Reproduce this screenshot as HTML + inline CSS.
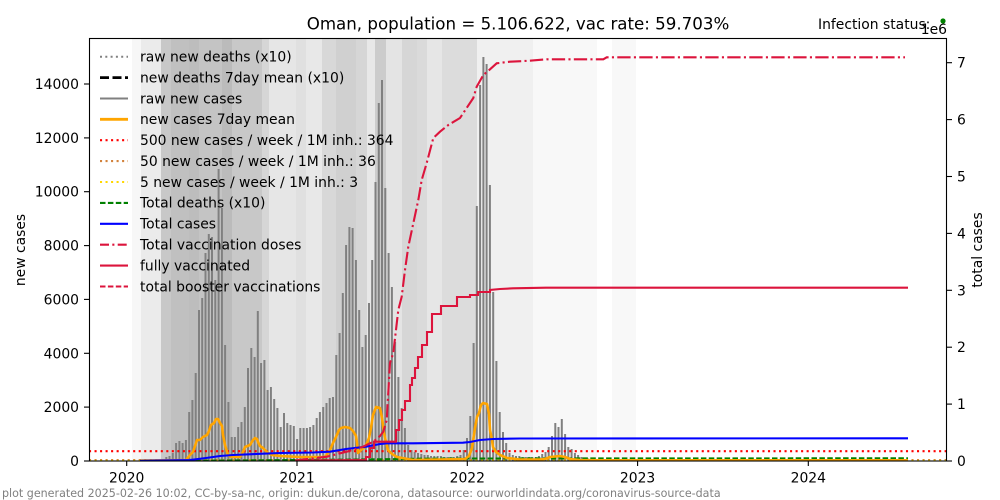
<!DOCTYPE html>
<html><head><meta charset="utf-8"><style>
html,body{margin:0;padding:0;background:#fff;}
svg{display:block;font-family:"DejaVu Sans","Liberation Sans",sans-serif;}
</style></head><body>
<svg width="1000" height="500" viewBox="0 0 1000 500" xmlns="http://www.w3.org/2000/svg">
<defs><clipPath id="ax"><rect x="89" y="38" width="858" height="423"/></clipPath></defs>
<rect width="1000" height="500" fill="#fff"/>
<g clip-path="url(#ax)">
<g shape-rendering="crispEdges">
<rect x="132" y="38" width="9" height="423" fill="#f7f7f7"/>
<rect x="141" y="38" width="20" height="423" fill="#ebebeb"/>
<rect x="161" y="38" width="10" height="423" fill="#c8c8c8"/>
<rect x="171" y="38" width="18" height="423" fill="#c0c0c0"/>
<rect x="189" y="38" width="10" height="423" fill="#bdbdbd"/>
<rect x="199" y="38" width="23" height="423" fill="#c4c4c4"/>
<rect x="222" y="38" width="10" height="423" fill="#bbbbbb"/>
<rect x="232" y="38" width="30" height="423" fill="#c8c8c8"/>
<rect x="262" y="38" width="7" height="423" fill="#d6d6d6"/>
<rect x="269" y="38" width="27" height="423" fill="#e6e6e6"/>
<rect x="296" y="38" width="10" height="423" fill="#e0e0e0"/>
<rect x="306" y="38" width="16" height="423" fill="#e8e8e8"/>
<rect x="322" y="38" width="14" height="423" fill="#d8d8d8"/>
<rect x="336" y="38" width="20" height="423" fill="#d0d0d0"/>
<rect x="356" y="38" width="11" height="423" fill="#d6d6d6"/>
<rect x="367" y="38" width="8" height="423" fill="#e8e8e8"/>
<rect x="375" y="38" width="11" height="423" fill="#cccccc"/>
<rect x="386" y="38" width="16" height="423" fill="#e4e4e4"/>
<rect x="402" y="38" width="15" height="423" fill="#d6d6d6"/>
<rect x="417" y="38" width="10" height="423" fill="#dadada"/>
<rect x="427" y="38" width="15" height="423" fill="#e6e6e6"/>
<rect x="442" y="38" width="35" height="423" fill="#dcdcdc"/>
<rect x="477" y="38" width="56" height="423" fill="#f0f0f0"/>
<rect x="533" y="38" width="64" height="423" fill="#f8f8f8"/>
<rect x="612" y="38" width="24" height="423" fill="#f8f8f8"/>
</g>
<!-- raw new cases bars -->
<path stroke="#808080" stroke-width="2" fill="none" d="M163 461V459M166.3 461V457M169.5 461V456M172.8 461V453M176.1 461V443M179.4 461V441M182.6 461V443M185.9 461V440M189.2 461V412M192.4 461V400M195.7 461V373M199 461V310M202.2 461V298M205.5 461V253M208.8 461V234M212 461V237M215.3 461V280M218.6 461V169M221.9 461V208M225.1 461V345M228.4 461V402M231.7 461V437M234.9 461V437M238.2 461V427M241.5 461V422M244.8 461V407M248 461V368M251.3 461V348M254.6 461V357M257.8 461V311M261.1 461V363M264.4 461V360M267.6 461V390M270.9 461V387M274.2 461V399M277.4 461V408M280.7 461V427M284 461V413M287.3 461V423M290.5 461V425M293.8 461V426M297.1 461V439M300.3 461V428M303.6 461V428M306.9 461V428M310.1 461V427M313.4 461V425M316.7 461V418M319.9 461V412M323.2 461V407M326.5 461V403M329.7 461V398M333 461V397M336.3 461V355M339.6 461V333M342.8 461V293M346.1 461V245M349.4 461V227M352.6 461V228M355.9 461V260M359.2 461V310M362.4 461V347M365.7 461V335M369 461V303M372.2 461V260M375.5 461V182M378.8 461V103M382 461V80M385.3 461V188M388.6 461V253M391.9 461V287M395.1 461V342M398.4 461V377M401.7 461V408M404.9 461V428M408.2 461V445M411.5 461V450M414.7 461V452M418 461V453M421.3 461V454M424.5 461V455M427.8 461V455M431 461V456M434.3 461V456M437.6 461V456M440.9 461V456M444.1 461V457M447.4 461V457M450.7 461V457M453.9 461V457M457.2 461V456M460.5 461V455M463.7 461V450M467 461V438M470.3 461V416M473.6 461V343M476.8 461V206M480.1 461V85M483.4 461V57M486.6 461V64M489.9 461V185M493.2 461V292M496.4 461V361M499.7 461V412M503 461V432M506.2 461V443M509.5 461V453M512.8 461V455M516 461V456M519.3 461V456M522.6 461V457M525.9 461V457M529.1 461V457M532.4 461V457M535.7 461V457M538.9 461V456M542.2 461V454M545.5 461V452M548.7 461V447M552 461V436M555.3 461V423M558.5 461V427M561.8 461V419M565.1 461V434M568.3 461V447M571.6 461V449M574.9 461V453M578.1 461V455M581.4 461V457M584.7 461V458M588 461V458.5"/>
<!-- threshold lines -->
<line x1="89" y1="451.2" x2="947" y2="451.2" stroke="#ff0000" stroke-width="2.08" stroke-dasharray="2.08 3.44"/>
<line x1="89" y1="460" x2="947" y2="460" stroke="#d2823c" stroke-width="2.08" stroke-dasharray="2.08 3.44"/>
<line x1="89" y1="460.9" x2="947" y2="460.9" stroke="#ffd700" stroke-width="2.08" stroke-dasharray="2.08 3.44"/>
<!-- total deaths x10 -->
<polyline fill="none" stroke="#008000" stroke-width="2.08" stroke-dasharray="5.5 2.4" points="140,461 200,460.7 300,460 380,459.3 420,458.7 470,458.5 908,458.3"/>
<!-- new cases 7day mean -->
<polyline fill="none" stroke="#ffa500" stroke-width="2.6" stroke-linejoin="round" points="140,460.5 186,460 190,455 193,452 195,446 197,440 200,440 203,437 207,435 209,431 211,425 214,423 216,419 218,419 220,423 222,426 223,435 225,445 228,455 231,457 240,457 243,452 245,447 250,445 253,440 255,438 257,439 258,442 260,446 263,448 266,451 268,453 272,455 280,456 300,457 325,457 328,453 330,450 333,443 336,437 339,430 341,428 345,427 350,428 353,431 356,436 357,443 358,453 361,450 365,447 367,443 369,438 371,428 373,415 376,407 380,408 382,418 384,433 386,442 388,450 392,454 397,457 413,460 465,459 469,456 472,448 475,428 477,417 479,413 481,405 483,403 487,404 489,414 490,430 492,440 493,447 496,452 500,455 507,458 520,459.5 540,459.5 545,459 550,457 555,456.5 560,456 565,457 570,459 580,460 600,460.3 908,460.3"/>
<!-- total cases -->
<polyline fill="none" stroke="#0000ff" stroke-width="2.1" points="140,460.8 190,460 206,458 220,456 233,455 280,453 313,452.5 330,451.7 346,449 366,446.7 380,444 387,443.3 413,443.3 463,442.7 470,442 480,440 493,439 520,438.5 908,438.3"/>
<!-- fully vaccinated -->
<polyline fill="none" stroke="#dc143c" stroke-width="2.1" points="295,460.5 366,460 366,457 370,457 370,448 374,448 374,441.7 396,441.7 396,430 399,430 399,420 402,420 402,410 405,410 405,401 410,401 410,385 412,385 412,378 415,378 415,368 418,368 418,357 422,357 422,345 427,345 427,332 432,332 432,314 441,314 441,306 457,306 457,297 470,297 470,295 478,295 478,292 490,292 490,290 500,289 513,288.3 546,287.7 908,287.7"/>
<!-- total vaccination doses -->
<polyline fill="none" stroke="#dc143c" stroke-width="2.1" stroke-dasharray="13.3 3.3 2.1 3.3" points="295,460.5 326.7,456.7 346.7,451.7 363,446.7 373.3,441.7 380,436 383.3,431.7 386.7,420 390,363 393.3,353 398.3,310 401.7,296.7 405,270 408.3,246.7 413.3,223.3 418.3,200 421.7,180 426.7,163 433.3,138 440,131.7 448.3,125 460,118 473.3,98 476.7,86.7 483.3,75 490,69.3 496.7,63.3 510,61.7 530,60.7 546.7,59.3 603.3,59.3 606.7,57.3 905,57.3"/>
</g>
<!-- axes frame -->
<rect x="89.5" y="38.5" width="857" height="422.5" fill="none" stroke="#000" stroke-width="1.1"/>
<!-- ticks -->
<g stroke="#000" stroke-width="1.1">
<line x1="84" y1="461" x2="89" y2="461"/><line x1="84" y1="407.1" x2="89" y2="407.1"/><line x1="84" y1="353.3" x2="89" y2="353.3"/><line x1="84" y1="299.4" x2="89" y2="299.4"/><line x1="84" y1="245.6" x2="89" y2="245.6"/><line x1="84" y1="191.7" x2="89" y2="191.7"/><line x1="84" y1="137.9" x2="89" y2="137.9"/><line x1="84" y1="84" x2="89" y2="84"/>
<line x1="947" y1="461" x2="952" y2="461"/><line x1="947" y1="404.1" x2="952" y2="404.1"/><line x1="947" y1="347.2" x2="952" y2="347.2"/><line x1="947" y1="290.3" x2="952" y2="290.3"/><line x1="947" y1="233.4" x2="952" y2="233.4"/><line x1="947" y1="176.5" x2="952" y2="176.5"/><line x1="947" y1="119.6" x2="952" y2="119.6"/><line x1="947" y1="62.7" x2="952" y2="62.7"/>
<line x1="126.7" y1="461" x2="126.7" y2="466"/><line x1="297" y1="461" x2="297" y2="466"/><line x1="467.3" y1="461" x2="467.3" y2="466"/><line x1="637.6" y1="461" x2="637.6" y2="466"/><line x1="808.3" y1="461" x2="808.3" y2="466"/>
</g>
<g font-size="13.9" fill="#000">
<g text-anchor="end">
<text x="79" y="466">0</text><text x="79" y="412.1">2000</text><text x="79" y="358.3">4000</text><text x="79" y="304.4">6000</text><text x="79" y="250.6">8000</text><text x="79" y="196.7">10000</text><text x="79" y="142.9">12000</text><text x="79" y="89">14000</text>
</g>
<g text-anchor="start">
<text x="957" y="466">0</text><text x="957" y="409.1">1</text><text x="957" y="352.2">2</text><text x="957" y="295.3">3</text><text x="957" y="238.4">4</text><text x="957" y="181.5">5</text><text x="957" y="124.6">6</text><text x="957" y="67.7">7</text>
</g>
<g text-anchor="middle">
<text x="126.7" y="482.5">2020</text><text x="297" y="482.5">2021</text><text x="467.3" y="482.5">2022</text><text x="637.6" y="482.5">2023</text><text x="808.3" y="482.5">2024</text>
</g>
<text text-anchor="middle" transform="translate(25,250) rotate(-90)">new cases</text>
<text text-anchor="middle" transform="translate(982,250) rotate(-90)">total cases</text>
<text x="818" y="29">Infection status:</text>
<text x="947" y="34" text-anchor="end">1e6</text>
</g>
<circle cx="943" cy="21" r="2.6" fill="#008000"/>
<text x="518" y="29.5" font-size="16.67" text-anchor="middle" fill="#000">Oman, population = 5.106.622, vac rate: 59.703%</text>
<!-- legend -->
<g fill="none">
<line x1="100" y1="56.7" x2="128" y2="56.7" stroke="#808080" stroke-width="2" stroke-dasharray="2 3.3"/>
<line x1="100" y1="77.6" x2="128" y2="77.6" stroke="#000" stroke-width="2.8" stroke-dasharray="9 3.5"/>
<line x1="100" y1="98.5" x2="128" y2="98.5" stroke="#808080" stroke-width="2"/>
<line x1="100" y1="119.3" x2="128" y2="119.3" stroke="#ffa500" stroke-width="2.8"/>
<line x1="100" y1="140.2" x2="128" y2="140.2" stroke="#ff0000" stroke-width="2.08" stroke-dasharray="2.08 3.44"/>
<line x1="100" y1="161.1" x2="128" y2="161.1" stroke="#d2823c" stroke-width="2.08" stroke-dasharray="2.08 3.44"/>
<line x1="100" y1="182" x2="128" y2="182" stroke="#ffd700" stroke-width="2.08" stroke-dasharray="2.08 3.44"/>
<line x1="100" y1="202.9" x2="128" y2="202.9" stroke="#008000" stroke-width="2.08" stroke-dasharray="5.5 2.4"/>
<line x1="100" y1="223.8" x2="128" y2="223.8" stroke="#0000ff" stroke-width="2.1"/>
<line x1="100" y1="244.7" x2="128" y2="244.7" stroke="#dc143c" stroke-width="2.1" stroke-dasharray="9 3.3 2.1 3.3"/>
<line x1="100" y1="265.6" x2="128" y2="265.6" stroke="#dc143c" stroke-width="2.1"/>
<line x1="100" y1="286.5" x2="128" y2="286.5" stroke="#dc143c" stroke-width="2.1" stroke-dasharray="5.5 2.4"/>
</g>
<g font-size="13.9" fill="#000">
<text x="140" y="61.5">raw new deaths (x10)</text>
<text x="140" y="82.4">new deaths 7day mean (x10)</text>
<text x="140" y="103.3">raw new cases</text>
<text x="140" y="124.1">new cases 7day mean</text>
<text x="140" y="145">500 new cases / week / 1M inh.: 364</text>
<text x="140" y="165.9">50 new cases / week / 1M inh.: 36</text>
<text x="140" y="186.8">5 new cases / week / 1M inh.: 3</text>
<text x="140" y="207.7">Total deaths (x10)</text>
<text x="140" y="228.6">Total cases</text>
<text x="140" y="249.5">Total vaccination doses</text>
<text x="140" y="270.4">fully vaccinated</text>
<text x="140" y="291.3">total booster vaccinations</text>
</g>
<text x="2" y="497" font-size="11.1" fill="#808080">plot generated 2025-02-26 10:02, CC-by-sa-nc, origin: dukun.de/corona, datasource: ourworldindata.org/coronavirus-source-data</text>
</svg>
</body></html>
